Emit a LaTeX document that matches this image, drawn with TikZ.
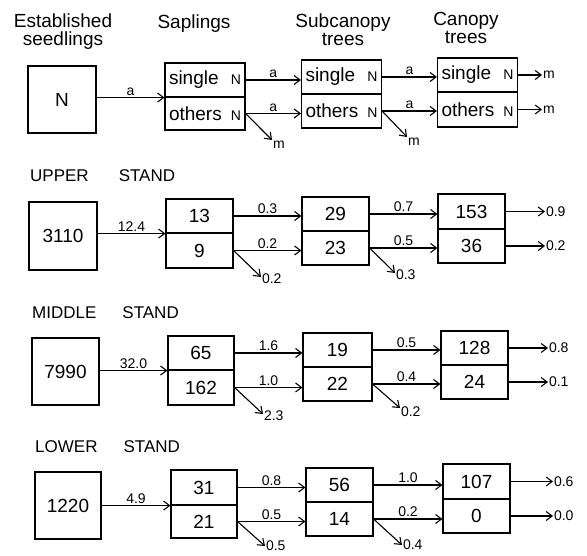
\documentclass[tikz,border=0pt]{standalone}
\usepackage{fontspec}
\setmainfont{Liberation Sans}
\usetikzlibrary{arrows.meta}
\newcommand{\nsz}{\fontsize{14}{14}\selectfont}
\begin{document}
\begin{tikzpicture}[x=1pt,y=-1pt,
  box/.style={draw, line width=1.1pt, inner sep=0pt, font=\fontsize{19}{19}\selectfont},
  hbox/.style={box, text width=72pt, inner xsep=4pt, align=left},
  arr/.style={line width=1.1pt, -{Straight Barb[length=6pt,width=9pt,line width=1.1pt]}},
  lab/.style={font=\nsz, inner sep=1.5pt},
  head/.style={font=\fontsize{19}{19}\selectfont, align=center, inner sep=0pt},
  stand/.style={font=\fontsize{17}{17}\selectfont, anchor=west, inner sep=0pt}]
\useasboundingbox (0,0) rectangle (587,556);
% headers
\node[head] (h1) at (63,32) {Established\\[-1pt]seedlings};
\node[head] (h2) at (194,24) {Saplings};
\node[head] (h3) at (343,30) {Subcanopy\\[-1pt]trees};
\node[head] (h4) at (466,28) {Canopy\\[-1pt]trees};
% ---- generic row
\node[box, minimum width=68, minimum height=67] (s0) at (62,99.5) {N};
\node[hbox, minimum height=34] (a0t) at (205,80) {single\hfill{\nsz N}};
\node[hbox, minimum height=33] (a0b) at (205,113.5) {others\hfill{\nsz N}};
\node[hbox, minimum height=34] (b0t) at (341.5,77) {single\hfill{\nsz N}};
\node[hbox, minimum height=34] (b0b) at (341.5,111) {others\hfill{\nsz N}};
\node[hbox, minimum height=34] (c0t) at (477.5,75) {single\hfill{\nsz N}};
\node[hbox, minimum height=35] (c0b) at (477.5,109.5) {others\hfill{\nsz N}};
\draw[arr] (s0.east |- a0t.south west) -- node[lab,above]{a} (a0t.south west);
\draw[arr] (a0t.east) -- node[lab,above]{a} (a0t.east -| b0t.west);
\draw[arr] (a0b.east) -- node[lab,above]{a} (a0b.east -| b0b.west);
\draw[arr] (b0t.east) -- node[lab,above]{a} (b0t.east -| c0t.west);
\draw[arr] (b0b.east) -- node[lab,above]{a} (b0b.east -| c0b.west);
\coordinate (d0a) at (272,140);
\coordinate (d0b) at (407,137);
\draw[arr] (a0b.east) -- (d0a) node[lab,anchor=north west,inner sep=0.5pt]{m};
\draw[arr] (b0b.east) -- (d0b) node[lab,anchor=north west,inner sep=0.5pt]{m};
\coordinate (e0a) at (542,75);
\coordinate (e0b) at (542,109.5);
\draw[arr] (c0t.east) -- (e0a) node[lab,anchor=west,inner sep=0.5pt]{m};
\draw[arr] (c0b.east) -- (e0b) node[lab,anchor=west,inner sep=0.5pt]{m};
% ---- UPPER STAND
\node[stand] (t1) at (30,176) {UPPER\hspace{30pt}STAND};
\node[box, minimum width=68, minimum height=68] (s1) at (63,236) {3110};
\node[box, minimum width=67, minimum height=34] (a1t) at (199.5,216) {13};
\node[box, minimum width=67, minimum height=35] (a1b) at (199.5,250.5) {9};
\node[box, minimum width=67, minimum height=34] (b1t) at (335.5,214) {29};
\node[box, minimum width=67, minimum height=34] (b1b) at (335.5,248) {23};
\node[box, minimum width=67, minimum height=35] (c1t) at (471.5,211.5) {153};
\node[box, minimum width=67, minimum height=34] (c1b) at (471.5,246) {36};
\draw[arr] (s1.east |- a1t.south west) -- node[lab,above]{12.4} (a1t.south west);
\draw[arr] (a1t.east) -- node[lab,above]{0.3} (a1t.east -| b1t.west);
\draw[arr] (a1b.east) -- node[lab,above]{0.2} (a1b.east -| b1b.west);
\draw[arr] (b1t.east) -- node[lab,above]{0.7} (b1t.east -| c1t.west);
\draw[arr] (b1b.east) -- node[lab,above]{0.5} (b1b.east -| c1b.west);
\coordinate (d1a) at (261,277);
\coordinate (d1b) at (395,273);
\draw[arr] (a1b.east) -- (d1a) node[lab,anchor=west,inner sep=0.5pt,yshift=-2pt]{0.2};
\draw[arr] (b1b.east) -- (d1b) node[lab,anchor=west,inner sep=0.5pt,yshift=-2pt]{0.3};
\coordinate (e1a) at (545,211.5);
\coordinate (e1b) at (545,246);
\draw[arr] (c1t.east) -- (e1a) node[lab,anchor=west,inner sep=0.5pt]{0.9};
\draw[arr] (c1b.east) -- (e1b) node[lab,anchor=west,inner sep=0.5pt]{0.2};
% ---- MIDDLE STAND
\node[stand] (t2) at (32,313) {MIDDLE\hspace{26pt}STAND};
\node[box, minimum width=67, minimum height=67] (s2) at (65.5,371.5) {7990};
\node[box, minimum width=66, minimum height=34] (a2t) at (201,353) {65};
\node[box, minimum width=66, minimum height=35] (a2b) at (201,387.5) {162};
\node[box, minimum width=69, minimum height=34] (b2t) at (337.5,350) {19};
\node[box, minimum width=69, minimum height=34] (b2b) at (337.5,384) {22};
\node[box, minimum width=67, minimum height=34] (c2t) at (474.5,348) {128};
\node[box, minimum width=67, minimum height=34] (c2b) at (474.5,382) {24};
\draw[arr] (s2.east |- a2t.south west) -- node[lab,above]{32.0} (a2t.south west);
\draw[arr] (a2t.east) -- node[lab,above]{1.6} (a2t.east -| b2t.west);
\draw[arr] (a2b.east) -- node[lab,above]{1.0} (a2b.east -| b2b.west);
\draw[arr] (b2t.east) -- node[lab,above]{0.5} (b2t.east -| c2t.west);
\draw[arr] (b2b.east) -- node[lab,above]{0.4} (b2b.east -| c2b.west);
\coordinate (d2a) at (263,414);
\coordinate (d2b) at (400,408);
\draw[arr] (a2b.east) -- (d2a) node[lab,anchor=north west,inner sep=0.5pt,yshift=4pt]{2.3};
\draw[arr] (b2b.east) -- (d2b) node[lab,anchor=north west,inner sep=0.5pt,yshift=2pt]{0.2};
\coordinate (e2a) at (548,348);
\coordinate (e2b) at (548,382);
\draw[arr] (c2t.east) -- (e2a) node[lab,anchor=west,inner sep=0.5pt]{0.8};
\draw[arr] (c2b.east) -- (e2b) node[lab,anchor=west,inner sep=0.5pt]{0.1};
% ---- LOWER STAND
\node[stand] (t3) at (35,447) {LOWER\hspace{26pt}STAND};
\node[box, minimum width=66, minimum height=67] (s3) at (68,505.5) {1220};
\node[box, minimum width=66, minimum height=35] (a3t) at (204,487.5) {31};
\node[box, minimum width=66, minimum height=33] (a3b) at (204,521.5) {21};
\node[box, minimum width=67, minimum height=34] (b3t) at (339.5,485) {56};
\node[box, minimum width=67, minimum height=34] (b3b) at (339.5,519) {14};
\node[box, minimum width=67, minimum height=35] (c3t) at (476.5,481.5) {107};
\node[box, minimum width=67, minimum height=34] (c3b) at (476.5,516) {0};
\draw[arr] (s3.east |- a3t.south west) -- node[lab,above]{4.9} (a3t.south west);
\draw[arr] (a3t.east) -- node[lab,above]{0.8} (a3t.east -| b3t.west);
\draw[arr] (a3b.east) -- node[lab,above]{0.5} (a3b.east -| b3b.west);
\draw[arr] (b3t.east) -- node[lab,above]{1.0} (b3t.east -| c3t.west);
\draw[arr] (b3b.east) -- node[lab,above]{0.2} (b3b.east -| c3b.west);
\coordinate (d3a) at (265,546);
\coordinate (d3b) at (402,545);
\draw[arr] (a3b.east) -- (d3a) node[lab,anchor=west,inner sep=0.5pt]{0.5};
\draw[arr] (b3b.east) -- (d3b) node[lab,anchor=west,inner sep=0.5pt]{0.4};
\coordinate (e3a) at (553,481.5);
\coordinate (e3b) at (553,516);
\draw[arr] (c3t.east) -- (e3a) node[lab,anchor=west,inner sep=0.5pt]{0.6};
\draw[arr] (c3b.east) -- (e3b) node[lab,anchor=west,inner sep=0.5pt]{0.0};
\end{tikzpicture}
\end{document}
